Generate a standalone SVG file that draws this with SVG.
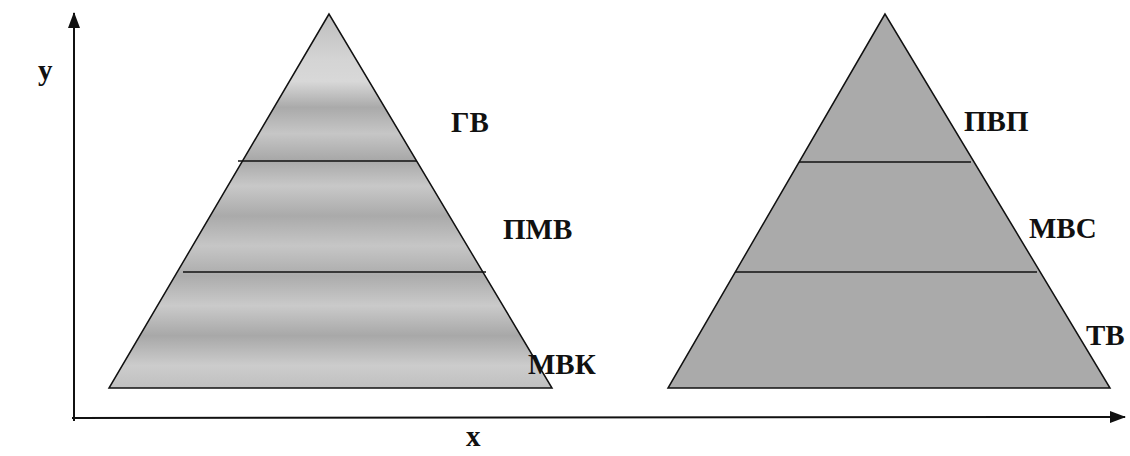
<svg xmlns="http://www.w3.org/2000/svg" width="1130" height="456" viewBox="0 0 1130 456">
<style>
.lbl{font-family:"Liberation Serif","Times New Roman",serif;font-weight:bold;font-size:29px;fill:#111}
.ax{stroke:#111;stroke-width:2;fill:none}
.edge{stroke:#111;stroke-width:1.5}
.tri{stroke:#111;stroke-width:1.5;stroke-linejoin:miter}
</style>
<defs>
<marker id="ah" markerWidth="16" markerHeight="12" refX="15" refY="6" orient="auto" markerUnits="userSpaceOnUse" viewBox="0 0 16 12">
<path d="M0,0 L16,6 L0,12 Z" fill="#111"/>
</marker>
<linearGradient id="bands" x1="0" y1="0" x2="0" y2="1" gradientUnits="objectBoundingBox">
<stop offset="0" stop-color="#bdbdbd"/>
<stop offset="0.12" stop-color="#d4d4d4"/>
<stop offset="0.18" stop-color="#d8d8d8"/>
<stop offset="0.25" stop-color="#aaaaaa"/>
<stop offset="0.32" stop-color="#c6c6c6"/>
<stop offset="0.39" stop-color="#a8a8a8"/>
<stop offset="0.46" stop-color="#c8c8c8"/>
<stop offset="0.54" stop-color="#aaaaaa"/>
<stop offset="0.62" stop-color="#c6c6c6"/>
<stop offset="0.70" stop-color="#acacac"/>
<stop offset="0.78" stop-color="#cacaca"/>
<stop offset="0.86" stop-color="#a8a8a8"/>
<stop offset="0.94" stop-color="#cccccc"/>
<stop offset="1" stop-color="#c0c0c0"/>
</linearGradient>
</defs>
<rect width="1130" height="456" fill="#fff"/>
<g id="connectors">
<line class="ax" x1="74" y1="421" x2="74" y2="13" marker-end="url(#ah)"/>
<line class="ax" x1="72" y1="418" x2="1125" y2="417" marker-end="url(#ah)"/>
</g>
<g id="pyramid-left">
<polygon class="tri" points="329,14 109,388 552,388" fill="url(#bands)"/>
<line class="edge" x1="238" y1="161" x2="417" y2="161"/>
<line class="edge" x1="183" y1="272" x2="486" y2="272"/>
</g>
<g id="pyramid-right">
<polygon class="tri" points="885,14 668,388 1110,388" fill="#aaaaaa"/>
<line class="edge" x1="799" y1="162" x2="971" y2="162"/>
<line class="edge" x1="735" y1="272" x2="1037" y2="272"/>
</g>
<g id="labels">
<text class="lbl" x="38" y="80" font-size="27">y</text>
<text class="lbl" x="466" y="446" font-size="27">x</text>
<text class="lbl" x="451" y="132">ГВ</text>
<text class="lbl" x="503" y="239">ПМВ</text>
<text class="lbl" x="528" y="374">МВК</text>
<text class="lbl" x="964" y="131">ПВП</text>
<text class="lbl" x="1029" y="238">МВС</text>
<text class="lbl" x="1086" y="345">ТВ</text>
</g>
</svg>
